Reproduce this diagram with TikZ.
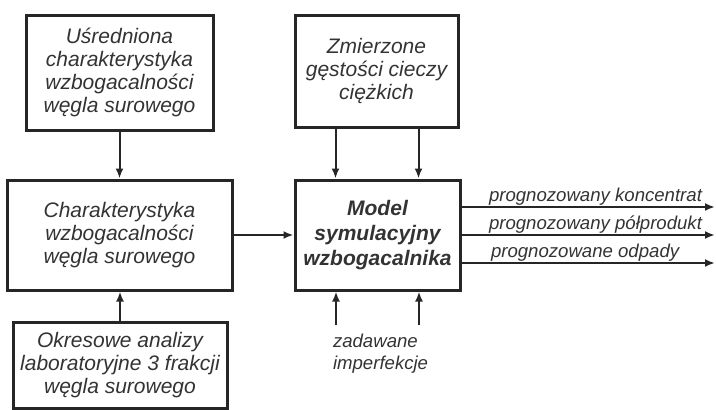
\documentclass[tikz,border=0pt]{standalone}
\usepackage{fontspec}
\setmainfont{Liberation Sans}
\usetikzlibrary{arrows.meta}

\tikzset{
  blok/.style={draw=black!85, line width=3pt, align=center, text=black!80,
    font=\itshape\fontsize{21}{23}\selectfont, inner sep=2pt},
  opis/.style={text=black!80, font=\itshape\fontsize{18.6}{22}\selectfont, inner sep=1pt}
}

\begin{document}
\begin{tikzpicture}[x=1pt, y=-1pt, line width=2pt, draw=black!85, >={Latex[length=10pt,width=8pt]}]

\useasboundingbox (0,0) rectangle (716,410);

\node[blok, minimum width=187pt, minimum height=115pt] (usr) at (119.5,72.5)
  {U\'{s}redniona\\charakterystyka\\wzbogacalności\\węgla surowego};
\node[blok, minimum width=225pt, minimum height=110pt] (char) at (119.5,235)
  {Charakterystyka\\wzbogacalności\\węgla surowego};
\node[blok, minimum width=214pt, minimum height=86pt] (okr) at (120,365)
  {Okresowe analizy\\laboratoryjne 3 frakcji\\węgla surowego};

\node[blok, minimum width=163pt, minimum height=112pt] (zm) at (376.5,71)
  {Zmierzone\\gęstości cieczy\\ciężkich};
\node[blok, minimum width=165pt, minimum height=110pt, font=\bfseries\itshape\fontsize{21}{25}\selectfont] (model) at (377.5,235)
  {Model\\symulacyjny\\wzbogacalnika};

\draw[->] (usr) -- (char);
\draw[->] (okr.north) -- (okr.north |- char.south);
\draw[->] (char) -- (model);

\draw[->] ([xshift=-41pt]zm.south) -- ([xshift=-41pt]zm.south |- model.north);
\draw[->] ([xshift=42pt]zm.south) -- ([xshift=42pt]zm.south |- model.north);

\coordinate (imp1) at (336,325);
\coordinate (imp2) at (419,325);
\draw[->] (imp1) -- (imp1 |- model.south);
\draw[->] (imp2) -- (imp2 |- model.south);
\node[opis, align=left, anchor=west] (imp) at (331,354) {zadawane\\imperfekcje};

\coordinate (out1) at (715,207);
\coordinate (out2) at (715,235);
\coordinate (out3) at (715,263);
\draw[->] (model.east |- out1) -- (out1);
\draw[->] (model.east |- out2) -- (out2);
\draw[->] (model.east |- out3) -- (out3);

\node[opis, above right] (konc) at (487,207) {prognozowany koncentrat};
\node[opis, above right] (polp) at (487,235) {prognozowany półprodukt};
\node[opis, above right] (odp) at (489,263) {prognozowane odpady};

\end{tikzpicture}
\end{document}
